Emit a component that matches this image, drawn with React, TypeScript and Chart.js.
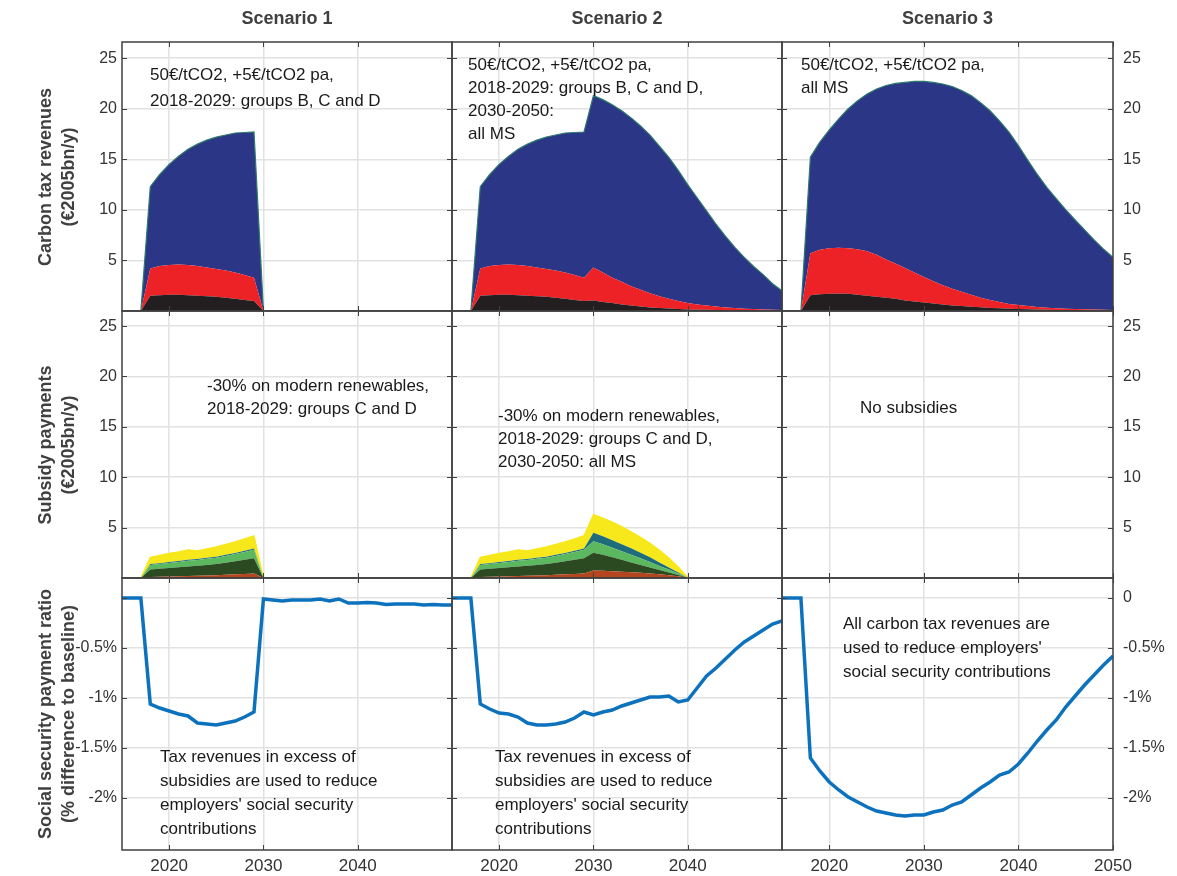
import React, { useEffect, useRef } from "react";
import { Chart, registerables } from "chart.js";
Chart.register(...registerables);

// ---------- DATA ----------
const years = [
  2015, 2016, 2017, 2018, 2019, 2020, 2021, 2022, 2023, 2024, 2025, 2026,
  2027, 2028, 2029, 2030, 2031, 2032, 2033, 2034, 2035, 2036, 2037, 2038,
  2039, 2040, 2041, 2042, 2043, 2044, 2045, 2046, 2047, 2048, 2049, 2050,
];

// Carbon tax revenues, stacked layers (€2005bn/y)
const s1TaxBlack = [0, 0, 0, 1.5, 1.55, 1.6, 1.6, 1.55, 1.5, 1.45, 1.4, 1.3, 1.2, 1.1, 1.0, 0, 0, 0, 0, 0, 0, 0, 0, 0, 0, 0, 0, 0, 0, 0, 0, 0, 0, 0, 0, 0];
const s1TaxRed = [0, 0, 0, 2.7, 2.9, 2.95, 3.0, 3.0, 2.95, 2.85, 2.75, 2.7, 2.6, 2.45, 2.3, 0, 0, 0, 0, 0, 0, 0, 0, 0, 0, 0, 0, 0, 0, 0, 0, 0, 0, 0, 0, 0];
const s1TaxBlue = [0, 0, 0, 8.1, 9.05, 9.95, 10.7, 11.45, 12.05, 12.6, 13.05, 13.4, 13.8, 14.1, 14.4, 0, 0, 0, 0, 0, 0, 0, 0, 0, 0, 0, 0, 0, 0, 0, 0, 0, 0, 0, 0, 0];

const s2TaxBlack = [0, 0, 0, 1.5, 1.55, 1.6, 1.6, 1.55, 1.5, 1.45, 1.4, 1.3, 1.2, 1.1, 1.0, 1.05, 0.9, 0.8, 0.65, 0.55, 0.45, 0.35, 0.3, 0.25, 0.2, 0.15, 0.13, 0.12, 0.1, 0.09, 0.08, 0.07, 0.06, 0.06, 0.05, 0.05];
const s2TaxRed = [0, 0, 0, 2.7, 2.9, 2.95, 3.0, 3.0, 2.95, 2.85, 2.75, 2.7, 2.6, 2.45, 2.3, 3.25, 2.9, 2.5, 2.25, 1.9, 1.65, 1.4, 1.15, 0.95, 0.8, 0.65, 0.52, 0.43, 0.35, 0.26, 0.22, 0.15, 0.14, 0.09, 0.07, 0.05];
const s2TaxBlue = [0, 0, 0, 8.1, 9.05, 9.95, 10.7, 11.45, 12.05, 12.6, 13.05, 13.4, 13.8, 14.1, 14.4, 17.0, 17.1, 17.1, 16.9, 16.65, 16.2, 15.65, 14.85, 14.0, 12.9, 11.7, 10.55, 9.35, 8.15, 7.05, 6.0, 5.08, 4.2, 3.45, 2.58, 1.9];

const s3TaxBlack = [0, 0, 0, 1.55, 1.65, 1.7, 1.7, 1.7, 1.6, 1.5, 1.4, 1.3, 1.2, 1.05, 0.95, 0.85, 0.75, 0.65, 0.55, 0.5, 0.43, 0.36, 0.3, 0.26, 0.22, 0.2, 0.17, 0.15, 0.13, 0.11, 0.1, 0.09, 0.08, 0.07, 0.06, 0.05];
const s3TaxRed = [0, 0, 0, 4.15, 4.4, 4.5, 4.55, 4.5, 4.5, 4.4, 4.15, 3.8, 3.5, 3.2, 2.85, 2.5, 2.2, 1.9, 1.65, 1.4, 1.17, 0.94, 0.8, 0.64, 0.48, 0.4, 0.33, 0.25, 0.2, 0.16, 0.12, 0.11, 0.09, 0.07, 0.06, 0.05];
const s3TaxBlue = [0, 0, 0, 9.5, 10.65, 11.7, 12.75, 13.8, 14.7, 15.55, 16.4, 17.2, 17.8, 18.35, 18.9, 19.35, 19.65, 19.9, 20.0, 19.9, 19.7, 19.3, 18.7, 17.9, 17.0, 15.75, 14.4, 13.1, 11.9, 10.85, 9.8, 8.8, 7.85, 6.9, 6.0, 5.2];

// Subsidy payments, stacked layers (€2005bn/y)
const s1SubBrown = [0, 0, 0, 0.1, 0.12, 0.15, 0.17, 0.2, 0.22, 0.25, 0.28, 0.32, 0.36, 0.4, 0.45, 0, 0, 0, 0, 0, 0, 0, 0, 0, 0, 0, 0, 0, 0, 0, 0, 0, 0, 0, 0, 0];
const s1SubDarkGreen = [0, 0, 0, 0.75, 0.8, 0.85, 0.9, 0.95, 1.0, 1.05, 1.1, 1.2, 1.3, 1.4, 1.5, 0, 0, 0, 0, 0, 0, 0, 0, 0, 0, 0, 0, 0, 0, 0, 0, 0, 0, 0, 0, 0];
const s1SubGreen = [0, 0, 0, 0.45, 0.47, 0.5, 0.52, 0.55, 0.57, 0.6, 0.63, 0.67, 0.72, 0.78, 0.85, 0, 0, 0, 0, 0, 0, 0, 0, 0, 0, 0, 0, 0, 0, 0, 0, 0, 0, 0, 0, 0];
const s1SubTeal = [0, 0, 0, 0.08, 0.08, 0.09, 0.09, 0.1, 0.1, 0.1, 0.1, 0.11, 0.11, 0.12, 0.12, 0, 0, 0, 0, 0, 0, 0, 0, 0, 0, 0, 0, 0, 0, 0, 0, 0, 0, 0, 0, 0];
const s1SubYellow = [0, 0, 0, 0.67, 0.78, 0.86, 0.92, 1.0, 0.81, 0.9, 0.99, 1.05, 1.11, 1.2, 1.28, 0, 0, 0, 0, 0, 0, 0, 0, 0, 0, 0, 0, 0, 0, 0, 0, 0, 0, 0, 0, 0];

const s2SubBrown = [0, 0, 0, 0.1, 0.12, 0.15, 0.17, 0.2, 0.22, 0.25, 0.28, 0.32, 0.36, 0.4, 0.45, 0.75, 0.72, 0.68, 0.63, 0.58, 0.52, 0.45, 0.37, 0.28, 0.17, 0.02, 0, 0, 0, 0, 0, 0, 0, 0, 0, 0];
const s2SubDarkGreen = [0, 0, 0, 0.75, 0.8, 0.85, 0.9, 0.95, 1.0, 1.05, 1.1, 1.2, 1.3, 1.4, 1.5, 1.75, 1.58, 1.37, 1.17, 0.97, 0.78, 0.6, 0.43, 0.27, 0.13, 0, 0, 0, 0, 0, 0, 0, 0, 0, 0, 0];
const s2SubGreen = [0, 0, 0, 0.45, 0.47, 0.5, 0.52, 0.55, 0.57, 0.6, 0.63, 0.67, 0.72, 0.78, 0.85, 1.15, 1.05, 0.95, 0.85, 0.75, 0.65, 0.55, 0.4, 0.3, 0.15, 0.01, 0, 0, 0, 0, 0, 0, 0, 0, 0, 0];
const s2SubTeal = [0, 0, 0, 0.08, 0.08, 0.09, 0.09, 0.1, 0.1, 0.1, 0.1, 0.11, 0.11, 0.12, 0.12, 0.85, 0.8, 0.75, 0.7, 0.65, 0.55, 0.45, 0.35, 0.2, 0.1, 0, 0, 0, 0, 0, 0, 0, 0, 0, 0, 0];
const s2SubYellow = [0, 0, 0, 0.67, 0.78, 0.86, 0.92, 1.0, 0.81, 0.9, 0.99, 1.05, 1.11, 1.2, 1.28, 1.8, 1.8, 1.8, 1.75, 1.65, 1.55, 1.4, 1.2, 0.95, 0.55, 0.02, 0, 0, 0, 0, 0, 0, 0, 0, 0, 0];

const s3SubZero = [0, 0, 0, 0, 0, 0, 0, 0, 0, 0, 0, 0, 0, 0, 0, 0, 0, 0, 0, 0, 0, 0, 0, 0, 0, 0, 0, 0, 0, 0, 0, 0, 0, 0, 0, 0];

// Social security payment ratio (% difference to baseline)
const s1Ratio = [0, 0, 0, -1.06, -1.1, -1.13, -1.16, -1.18, -1.25, -1.26, -1.27, -1.25, -1.23, -1.19, -1.14, -0.01, -0.02, -0.03, -0.02, -0.02, -0.02, -0.01, -0.03, -0.01, -0.05, -0.05, -0.045, -0.05, -0.065, -0.06, -0.06, -0.06, -0.07, -0.065, -0.07, -0.07];
const s2Ratio = [0, 0, 0, -1.06, -1.11, -1.15, -1.16, -1.19, -1.25, -1.27, -1.27, -1.26, -1.24, -1.2, -1.14, -1.17, -1.14, -1.12, -1.08, -1.05, -1.02, -0.99, -0.99, -0.98, -1.04, -1.02, -0.9, -0.78, -0.7, -0.61, -0.52, -0.44, -0.38, -0.32, -0.26, -0.23];
const s3Ratio = [0, 0, 0, -1.6, -1.73, -1.84, -1.92, -1.99, -2.04, -2.09, -2.13, -2.15, -2.17, -2.18, -2.17, -2.17, -2.14, -2.12, -2.07, -2.04, -1.97, -1.9, -1.84, -1.77, -1.74, -1.66, -1.55, -1.43, -1.32, -1.22, -1.09, -0.98, -0.87, -0.77, -0.67, -0.58];

// Tick values / labels
const xTicksInner = [2020, 2030, 2040];
const xTicksLast = [2020, 2030, 2040, 2050];
const bnTickValues = [5, 10, 15, 20, 25];
const bnTickLabels = ["5", "10", "15", "20", "25"];
const ratioTickValues = [-2, -1.5, -1, -0.5, 0];
const ratioTickLabelsLeft = ["-2%", "-1.5%", "-1%", "-0.5%", ""];
const ratioTickLabelsRight = ["-2%", "-1.5%", "-1%", "-0.5%", "0"];

const scenarioTitles = ["Scenario 1", "Scenario 2", "Scenario 3"];
const rowTitles = [
  ["Carbon tax revenues", "(€2005bn/y)"],
  ["Subsidy payments", "(€2005bn/y)"],
  ["Social security payment ratio", "(% difference to baseline)"],
];

// ---------- STYLE / LAYOUT ----------
const C = {
  blue: "#2b3686",
  red: "#ec2226",
  black: "#231f20",
  edge: "#2e7a6c",
  brown: "#b5451f",
  darkGreen: "#2c4a22",
  green: "#5cb85f",
  teal: "#1f6c7a",
  yellow: "#f6e81a",
  line: "#0c72bd",
  grid: "#e2e2e2",
  axis: "#404040",
  text: "#333333",
};
const FONT = "'Liberation Sans', Arial, sans-serif";
const colLeft = [122, 452, 782];
const colRight = [452, 782, 1113];
const rowTop = [42, 311, 578];
const rowBottom = [311, 578, 850];
const M = 3;
const LEFT_AXIS_W = 52;
const RIGHT_AXIS_W = 58;
const BOTTOM_AXIS_H = 26;

const boxPlugin = {
  id: "boxTicks",
  afterDraw(chart: any) {
    const { ctx, chartArea: a, scales } = chart;
    const x = scales.x;
    const y = scales.y;
    ctx.save();
    ctx.strokeStyle = C.axis;
    ctx.lineWidth = 1;
    ctx.beginPath();
    x.ticks.forEach((t: any) => {
      const px = Math.round(x.getPixelForValue(t.value)) + 0.5;
      ctx.moveTo(px, a.bottom);
      ctx.lineTo(px, a.bottom - 5);
      ctx.moveTo(px, a.top);
      ctx.lineTo(px, a.top + 5);
    });
    y.ticks.forEach((t: any) => {
      const py = Math.round(y.getPixelForValue(t.value)) + 0.5;
      ctx.moveTo(a.left, py);
      ctx.lineTo(a.left + 5, py);
      ctx.moveTo(a.right, py);
      ctx.lineTo(a.right - 5, py);
    });
    ctx.stroke();
    ctx.lineWidth = 1.5;
    ctx.strokeRect(a.left, a.top, a.right - a.left, a.bottom - a.top);
    ctx.restore();
  },
};

const pts = (vals: number[]) => years.map((yr, i) => ({ x: yr, y: vals[i] }));

function areaSet(vals: number[], color: string, first: boolean, top?: boolean, zeroEdge?: string) {
  return {
    data: pts(vals),
    backgroundColor: color,
    borderColor: top ? color : "rgba(0,0,0,0)",
    borderWidth: 1.2,
    fill: first ? "origin" : "-1",
    pointRadius: 0,
    segment: top
      ? {
          borderColor: (ctx: any) =>
            ctx.p0.parsed.y === 0 && ctx.p1.parsed.y === 0 ? zeroEdge : color,
        }
      : undefined,
  };
}

function taxSets(b: number[], r: number[], u: number[]) {
  return [
    areaSet(b, C.black, true),
    areaSet(r, C.red, false),
    { ...areaSet(u, C.blue, false, true, C.edge), borderColor: C.edge, segment: undefined },
  ];
}
function subSets(br: number[], dg: number[], g: number[], t: number[], yw: number[]) {
  return [
    areaSet(br, C.brown, true),
    areaSet(dg, C.darkGreen, false),
    areaSet(g, C.green, false),
    areaSet(t, C.teal, false),
    areaSet(yw, C.yellow, false, true, C.edge),
  ];
}
function lineSet(vals: number[]) {
  return [
    {
      data: pts(vals),
      borderColor: C.line,
      borderWidth: 3.5,
      fill: false,
      pointRadius: 0,
    },
  ];
}

const datasetsGrid = [
  [taxSets(s1TaxBlack, s1TaxRed, s1TaxBlue), taxSets(s2TaxBlack, s2TaxRed, s2TaxBlue), taxSets(s3TaxBlack, s3TaxRed, s3TaxBlue)],
  [
    subSets(s1SubBrown, s1SubDarkGreen, s1SubGreen, s1SubTeal, s1SubYellow),
    subSets(s2SubBrown, s2SubDarkGreen, s2SubGreen, s2SubTeal, s2SubYellow),
    [areaSet(s3SubZero, C.yellow, true, true, C.edge)],
  ],
  [lineSet(s1Ratio), lineSet(s2Ratio), lineSet(s3Ratio)],
];

const yRanges = [
  [0, 26.6],
  [0, 26.5],
  [-2.52, 0.2],
];

function Panel({ row, col }: { row: number; col: number }) {
  const ref = useRef<HTMLCanvasElement>(null);
  const yW = col === 0 ? LEFT_AXIS_W : col === 2 ? RIGHT_AXIS_W : 0;
  const xH = row === 2 ? BOTTOM_AXIS_H : 0;
  const left = colLeft[col] - (col === 0 ? LEFT_AXIS_W : 0) - M - 8;
  const top = rowTop[row] - M - 8;
  const width = colRight[col] - colLeft[col] + yW + 2 * M;
  const height = rowBottom[row] - rowTop[row] + xH + 2 * M;

  useEffect(() => {
    const xt = col === 2 ? xTicksLast : xTicksInner;
    const yt = row === 2 ? ratioTickValues : bnTickValues;
    const yl = row === 2 ? (col === 2 ? ratioTickLabelsRight : ratioTickLabelsLeft) : bnTickLabels;
    const chart = new Chart(ref.current as HTMLCanvasElement, {
      type: "line",
      data: { datasets: datasetsGrid[row][col] as any },
      options: {
        responsive: false,
        animation: false,
        devicePixelRatio: 1,
        layout: { padding: M },
        plugins: { legend: { display: false }, tooltip: { enabled: false } },
        elements: { point: { radius: 0 }, line: { tension: 0 } },
        scales: {
          x: {
            type: "linear",
            min: 2015,
            max: 2050,
            afterBuildTicks: (ax: any) => {
              ax.ticks = xt.map((v) => ({ value: v }));
            },
            afterFit: (s: any) => {
              s.height = xH;
              s.paddingLeft = 0;
              s.paddingRight = 0;
              s.paddingTop = 0;
              s.paddingBottom = 0;
            },
            grid: { color: C.grid, lineWidth: 1.5, drawTicks: false },
            border: { display: false },
            ticks: {
              display: row === 2,
              padding: 6,
              color: C.text,
              font: { family: FONT, size: 17 },
              callback: (_v: any, i: number) => String(xt[i]),
            },
          },
          y: {
            type: "linear",
            position: col === 2 ? "right" : "left",
            min: yRanges[row][0],
            max: yRanges[row][1],
            stacked: row < 2,
            afterBuildTicks: (ax: any) => {
              ax.ticks = yt.map((v) => ({ value: v }));
            },
            afterFit: (s: any) => {
              s.width = yW;
              s.paddingLeft = 0;
              s.paddingRight = 0;
              s.paddingTop = 0;
              s.paddingBottom = 0;
            },
            grid: { color: C.grid, lineWidth: 1.5, drawTicks: false },
            border: { display: false },
            ticks: {
              display: col !== 1,
              padding: col === 2 ? 10 : 5,
              color: C.text,
              font: { family: FONT, size: 16 },
              callback: (_v: any, i: number) => yl[i],
            },
          },
        },
      } as any,
      plugins: [boxPlugin],
    });
    return () => chart.destroy();
  }, []);

  return (
    <canvas
      ref={ref}
      width={width}
      height={height}
      style={{ position: "absolute", left, top, width, height }}
    />
  );
}

const annotations: { x: number; y: number; t: string }[] = [
  { x: 150, y: 74, t: "50€/tCO2, +5€/tCO2 pa," },
  { x: 150, y: 100, t: "2018-2029: groups B, C and D" },
  { x: 468, y: 64, t: "50€/tCO2, +5€/tCO2 pa," },
  { x: 468, y: 87, t: "2018-2029: groups B, C and D," },
  { x: 468, y: 110, t: "2030-2050:" },
  { x: 468, y: 133, t: "all MS" },
  { x: 801, y: 64, t: "50€/tCO2, +5€/tCO2 pa," },
  { x: 801, y: 87, t: "all MS" },
  { x: 207, y: 385, t: "-30% on modern renewables," },
  { x: 207, y: 408, t: "2018-2029: groups C and D" },
  { x: 498, y: 415, t: "-30% on modern renewables," },
  { x: 498, y: 438, t: "2018-2029: groups C and D," },
  { x: 498, y: 461, t: "2030-2050: all MS" },
  { x: 860, y: 407, t: "No subsidies" },
  { x: 160, y: 756, t: "Tax revenues in excess of" },
  { x: 160, y: 780, t: "subsidies are used to reduce" },
  { x: 160, y: 804, t: "employers' social security" },
  { x: 160, y: 828, t: "contributions" },
  { x: 495, y: 756, t: "Tax revenues in excess of" },
  { x: 495, y: 780, t: "subsidies are used to reduce" },
  { x: 495, y: 804, t: "employers' social security" },
  { x: 495, y: 828, t: "contributions" },
  { x: 843, y: 623, t: "All carbon tax revenues are" },
  { x: 843, y: 647, t: "used to reduce employers'" },
  { x: 843, y: 671, t: "social security contributions" },
];

const TITLE_FONT = "'Liberation Sans Narrow', 'Liberation Sans', Arial, sans-serif";

export default function App() {
  const cells: { row: number; col: number }[] = [];
  for (let r = 0; r < 3; r++) for (let c = 0; c < 3; c++) cells.push({ row: r, col: c });
  return (
    <div
      style={{
        position: "fixed",
        left: 8,
        top: 8,
        width: 1161,
        height: 860,
        fontFamily: FONT,
      }}
    >
      {cells.map((c) => (
        <Panel key={`${c.row}-${c.col}`} row={c.row} col={c.col} />
      ))}
      {scenarioTitles.map((t, i) => (
        <div
          key={t}
          style={{
            position: "absolute",
            left: (colLeft[i] + colRight[i]) / 2 - 8,
            top: 18 - 8,
            transform: "translate(-50%, -50%)",
            fontFamily: TITLE_FONT,
            fontWeight: "bold",
            fontSize: 18,
            color: C.axis,
            whiteSpace: "nowrap",
            lineHeight: 1,
          }}
        >
          {t}
        </div>
      ))}
      {rowTitles.map((lines, i) => (
        <div
          key={lines[0]}
          style={{
            position: "absolute",
            left: 57 - 8,
            top: (rowTop[i] + rowBottom[i]) / 2 - 8,
            width: 320,
            transform: "translate(-50%, -50%) rotate(-90deg)",
            textAlign: "center",
            fontFamily: TITLE_FONT,
            fontWeight: "bold",
            fontSize: 18,
            lineHeight: "23px",
            color: C.axis,
            whiteSpace: "nowrap",
          }}
        >
          <div>{lines[0]}</div>
          <div>{lines[1]}</div>
        </div>
      ))}
      {annotations.map((a, i) => (
        <div
          key={i}
          style={{
            position: "absolute",
            left: a.x - 8,
            top: a.y - 8,
            transform: "translateY(-50%)",
            fontSize: 17,
            lineHeight: 1,
            color: "#1a1a1a",
            whiteSpace: "nowrap",
          }}
        >
          {a.t}
        </div>
      ))}
    </div>
  );
}
